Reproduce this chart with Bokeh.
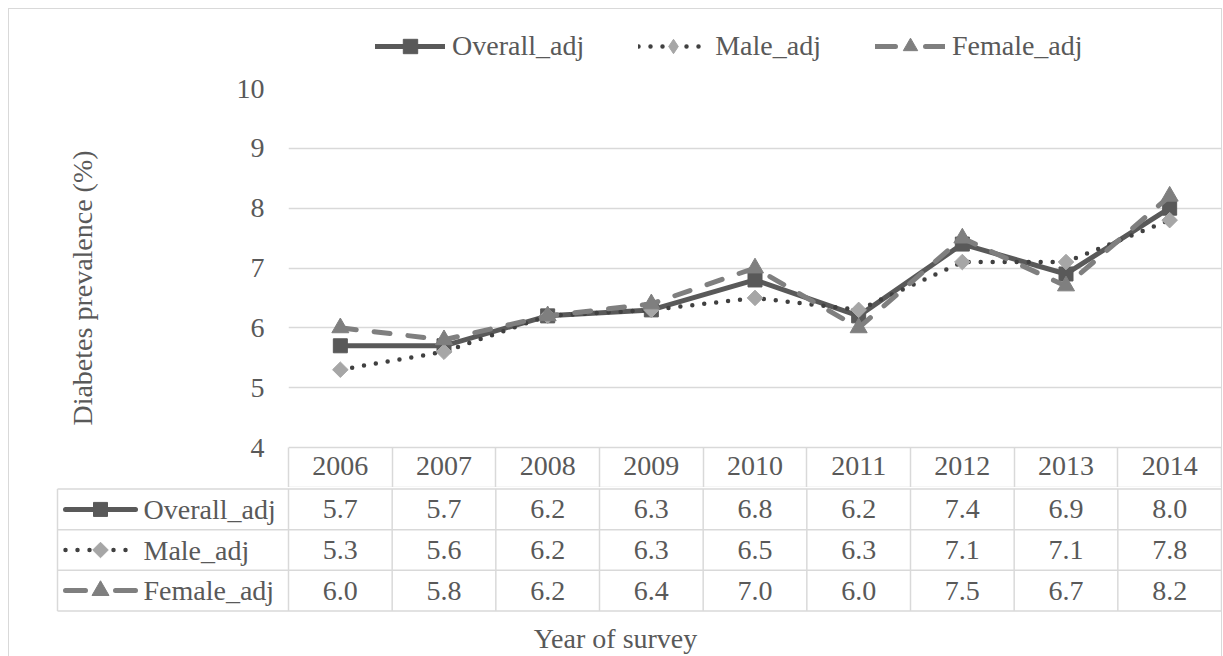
import math
from bokeh.plotting import figure
from bokeh.models import Range1d, FixedTicker, Legend, LegendItem
from bokeh.layouts import column
from bokeh.core.properties import value
from bokeh.embed import file_html
from bokeh.resources import INLINE

# ---------------- data ----------------
years = [2006, 2007, 2008, 2009, 2010, 2011, 2012, 2013, 2014]
overall_adj = [5.7, 5.7, 6.2, 6.3, 6.8, 6.2, 7.4, 6.9, 8.0]
male_adj = [5.3, 5.6, 6.2, 6.3, 6.5, 6.3, 7.1, 7.1, 7.8]
female_adj = [6.0, 5.8, 6.2, 6.4, 7.0, 6.0, 7.5, 6.7, 8.2]
series_names = ["Overall_adj", "Male_adj", "Female_adj"]
y_ticks = [4, 5, 6, 7, 8, 9, 10]
y_title = "Diabetes prevalence (%)"
x_title = "Year of survey"

# ---------------- styles ----------------
FONT = value("Liberation Serif")
TXT = "#595959"
GRID = "#d9d9d9"
FS = "28px"
series_vals = [overall_adj, male_adj, female_adj]
styles = [
    dict(line_color="#595959", line_width=5, line_dash="solid", leg_dash="solid",
         marker="square", mcolor="#595959", size=14, angle=0, leg_marker="square"),
    dict(line_color="#404040", line_width=4.5, line_dash="0 12", leg_dash="0 12",
         marker="square", mcolor="#a6a6a6", size=11, angle=math.pi / 4, leg_marker="diamond"),
    dict(line_color="#7f7f7f", line_width=5, line_dash="16 18", leg_dash="20 30",
         marker="triangle", mcolor="#7f7f7f", size=17, angle=0, leg_marker="triangle"),
]

W = 1212                 # content width (inside 1px border)
PAGE_X0 = 9              # page x of content left
PLOT_L, PLOT_R = 288, 1221   # page x of plot area
PLOT_T, AXIS_Y, HEADER_B = 88, 447, 487   # page y: top of plot, y=4 line, header bottom
colw = (PLOT_R - PLOT_L) / len(years)
bounds = [y - 0.5 for y in years] + [years[-1] + 0.5]
unit_px = (AXIS_Y - PLOT_T) / (y_ticks[-1] - y_ticks[0])
y_start = y_ticks[0] - (HEADER_B - AXIS_Y) / unit_px


def px2x(px):
    return bounds[0] + (px - PLOT_L) / colw


def base_fig(**kw):
    return figure(output_backend="svg", toolbar_location=None, outline_line_color=None,
                  frame_align=False, background_fill_color="white",
                  border_fill_color="white", **kw)


# ---------------- legend strip ----------------
pL = base_fig(width=W, height=53, x_range=Range1d(0, 1), y_range=Range1d(0, 1),
              min_border=0, x_axis_location=None, y_axis_location=None)
pL.grid.visible = False
leg_items = []
for name, st in zip(series_names, styles):
    # proxies drawn outside the visible range; only their legend swatches show
    lr = pL.line(x=[5, 6], y=[5, 6], line_color=st["line_color"], line_width=st["line_width"],
                 line_dash=st["leg_dash"], line_cap="round")
    sr = pL.scatter(x=[5], y=[5], marker=st["leg_marker"], size=14,
                    fill_color=st["mcolor"], line_color=st["mcolor"])
    leg_items.append(LegendItem(label=name, renderers=[lr, sr]))
legend = Legend(items=leg_items, location=(366, -2), orientation="horizontal",
                glyph_width=70, glyph_height=36, label_height=30, label_standoff=7,
                spacing=54, padding=0, margin=0, border_line_color=None,
                background_fill_alpha=0, label_text_font="Liberation Serif",
                label_text_font_size=FS, label_text_color=TXT)
pL.add_layout(legend)

# ---------------- chart (plot area + year header row) ----------------
pA = base_fig(width=W, height=HEADER_B - 62,
              x_range=Range1d(bounds[0], bounds[-1]),
              y_range=Range1d(y_start, y_ticks[-1]),
              min_border_left=PLOT_L - PAGE_X0, min_border_right=0,
              min_border_top=PLOT_T - 62, min_border_bottom=0)
pA.xgrid.visible = False
ya = pA.yaxis[0]
ya.ticker = FixedTicker(ticks=y_ticks)
ya.axis_line_color = None
ya.major_tick_line_color = None
ya.minor_tick_line_color = None
ya.major_label_standoff = 18
ya.major_label_text_font = "Liberation Serif"
ya.major_label_text_font_size = FS
ya.major_label_text_color = TXT
ya.axis_label = y_title
ya.axis_label_standoff = 136
ya.axis_label_text_font = "Liberation Serif"
ya.axis_label_text_font_size = FS
ya.axis_label_text_font_style = "normal"
ya.axis_label_text_color = TXT
pA.ygrid.grid_line_color = GRID
pA.ygrid.grid_line_width = 1.5

xa = pA.xaxis[0]
xa.ticker = FixedTicker(ticks=years, minor_ticks=bounds)
xa.axis_line_color = GRID
xa.axis_line_width = 1.5
xa.major_tick_line_color = None
xa.major_tick_out = 0
xa.major_tick_in = 0
xa.minor_tick_line_color = GRID
xa.minor_tick_line_width = 1.5
xa.minor_tick_out = 0
xa.minor_tick_in = HEADER_B - AXIS_Y
xa.major_label_standoff = -31
xa.major_label_text_font = "Liberation Serif"
xa.major_label_text_font_size = FS
xa.major_label_text_color = TXT

for name, vals, st in zip(series_names, series_vals, styles):
    pA.line(years, vals, line_color=st["line_color"], line_width=st["line_width"],
            line_dash=st["line_dash"], line_cap="round", line_join="round")
    pA.scatter(years, vals, marker=st["marker"], size=st["size"], angle=st["angle"],
               fill_color=st["mcolor"], line_color=st["mcolor"])

# ---------------- data table ----------------
pB = base_fig(width=W, height=169,
              x_range=Range1d(px2x(PAGE_X0), bounds[-1]), y_range=Range1d(-0.04, 3.04),
              min_border_left=0, min_border_right=0, min_border_top=0, min_border_bottom=42,
              y_axis_location=None)
pB.grid.visible = False
xb = pB.xaxis[0]
xb.ticker = FixedTicker(ticks=[])
xb.axis_line_color = None
xb.major_tick_line_color = None
xb.minor_tick_line_color = None
xb.major_label_standoff = 0
xb.axis_label = x_title
xb.axis_label_standoff = 10
xb.axis_label_text_font = "Liberation Serif"
xb.axis_label_text_font_size = FS
xb.axis_label_text_font_style = "normal"
xb.axis_label_text_color = TXT

n_rows = len(series_names)
row_y = [n_rows - 0.5 - i for i in range(n_rows)]
legcol_left = px2x(57)

hy = list(range(n_rows + 1))
pB.segment(x0=[legcol_left] * len(hy), y0=hy, x1=[bounds[-1]] * len(hy), y1=hy,
           line_color=GRID, line_width=1.5)
vx = bounds + [legcol_left]
pB.segment(x0=vx, y0=[0] * len(vx), x1=vx, y1=[n_rows] * len(vx),
           line_color=GRID, line_width=1.5)

for name, vals, st, ry in zip(series_names, series_vals, styles, row_y):
    pB.text(x=years, y=[ry] * len(years), text=[f"{v:.1f}" for v in vals],
            text_font=FONT, text_font_size=FS, text_color=TXT,
            text_align="center", text_baseline="middle")
    pB.line([px2x(65), px2x(135)], [ry, ry], line_color=st["line_color"],
            line_width=st["line_width"], line_dash=st["leg_dash"], line_cap="round")
    pB.scatter([px2x(100)], [ry], marker=st["marker"], size=st["size"], angle=st["angle"],
               fill_color=st["mcolor"], line_color=st["mcolor"])
    pB.text(x=[px2x(143)], y=[ry], text=[name], text_font=FONT, text_font_size=FS,
            text_color=TXT, text_align="left", text_baseline="middle")

layout = column(pL, pA, pB, spacing=0,
                styles={"margin": "8px 0 0 8px", "border": "1px solid #d9d9d9",
                        "border-bottom": "none"})

open("out.html", "w").write(file_html(layout, INLINE))
